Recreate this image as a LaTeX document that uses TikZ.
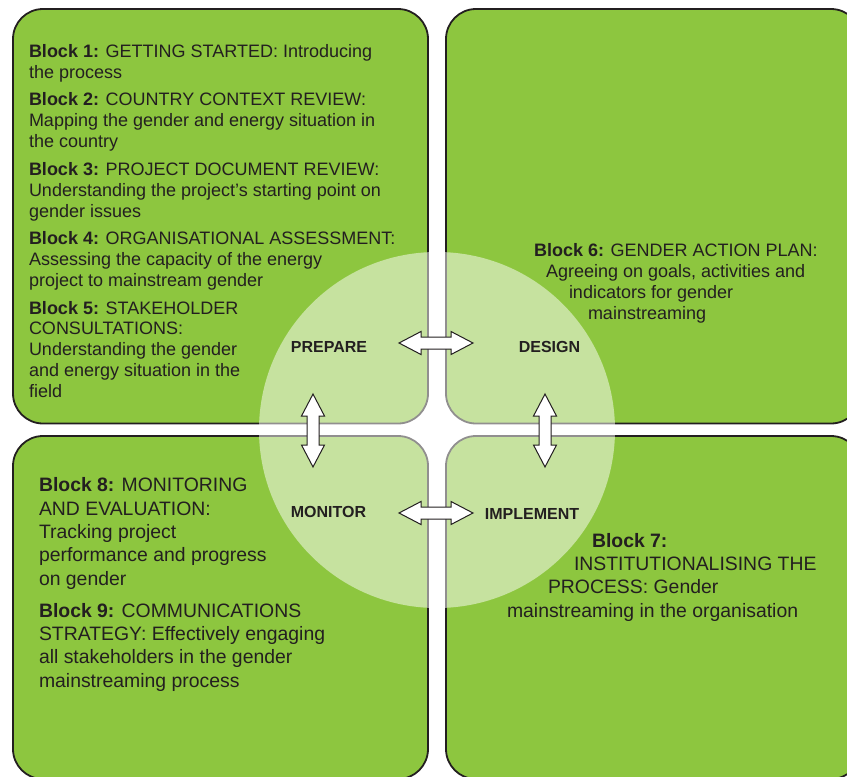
\documentclass[tikz,border=0pt]{standalone}
\usepackage{fontspec}
\setmainfont{Liberation Sans}
\definecolor{leaf}{HTML}{8DC63F}
\definecolor{ink}{HTML}{231F20}
\begin{document}
\begin{tikzpicture}[x=1pt,y=-1pt,
  every node/.style={inner sep=0pt, outer sep=0pt, text=ink},
  quad/.style={fill=leaf, draw=ink, line width=1.8pt, rounded corners=30pt},
  % multi-line text nodes are placed by the baseline of their last line
  body/.style={font=\fontsize{18}{20.7}\selectfont, align=left, anchor=base west},
  bodylarge/.style={font=\fontsize{19.4}{23.3}\selectfont, align=left, anchor=base west},
  phase/.style={font=\fontsize{16}{19}\selectfont\bfseries, anchor=base},
  flowarrow/.style={fill=white, draw=ink, line width=1pt, line join=miter}
]
\useasboundingbox (0,0) rectangle (847,777);
\clip (0,0) rectangle (847,777);

% the four quadrants
\path[quad] (13,9) rectangle (428,423.5);
\path[quad] (446,9) rectangle (861,423.5);
\path[quad] (13,436) rectangle (428,779);
\path[quad] (446,436) rectangle (861,779);

% translucent central disc
\fill[white, opacity=0.5] (437,430) circle (178pt);

% prepare quadrant
\node[body] (b1) at (29,78) {\textbf{Block 1:} GETTING STARTED: Introducing\\the process};
\node[body] (b2) at (29,147) {\textbf{Block 2:} COUNTRY CONTEXT REVIEW:\\Mapping the gender and energy situation in\\the country};
\node[body] (b3) at (29,217) {\textbf{Block 3:} PROJECT DOCUMENT REVIEW:\\Understanding the project’s starting point on\\gender issues};
\node[body] (b4) at (29,286) {\textbf{Block 4:} ORGANISATIONAL ASSESSMENT:\\Assessing the capacity of the energy\\project to mainstream gender};
\node[body] (b5) at (29,397) {\textbf{Block 5:} STAKEHOLDER\\CONSULTATIONS:\\Understanding the gender\\and energy situation in the\\field};

% design quadrant
\node[body] (b6) at (534,319) {\textbf{Block 6:} GENDER ACTION PLAN:\\\hspace*{12pt}Agreeing on goals, activities and\\\hspace*{35pt}indicators for gender\\\hspace*{54pt}mainstreaming};

% implement quadrant
\node[bodylarge] (b7) at (507,617) {\hspace*{85pt}\textbf{Block 7:}\\\hspace*{67pt}INSTITUTIONALISING THE\\\hspace*{41pt}PROCESS: Gender\\mainstreaming in the organisation};

% monitor quadrant
\node[bodylarge] (b8) at (39,585) {\textbf{Block 8:} MONITORING\\AND EVALUATION:\\Tracking project\\performance and progress\\on gender};
\node[bodylarge] (b9) at (39,687) {\textbf{Block 9:} COMMUNICATIONS\\STRATEGY: Effectively engaging\\all stakeholders in the gender\\mainstreaming process};

% phase labels
\node[phase] (prep) at (329,352) {PREPARE};
\node[phase] (design) at (549.5,352) {DESIGN};
\node[phase] (monitor) at (328.5,517) {MONITOR};
\node[phase] (impl) at (532,519) {IMPLEMENT};

% arrow tips between the phases
\coordinate (pd-l) at (399,343);
\coordinate (pd-r) at (473,343);
\coordinate (mi-l) at (399,513);
\coordinate (mi-r) at (473,513);
\coordinate (pm-t) at (313,394);
\coordinate (pm-b) at (313,467);
\coordinate (di-t) at (545,394);
\coordinate (di-b) at (545,467);

% horizontal double arrows
\draw[flowarrow] (pd-l) -- ++(22,-11.5) -- ++(0,5.5) -- ++(30,0) -- ++(0,-5.5) -- (pd-r)
  -- ++(-22,11.5) -- ++(0,-5.5) -- ++(-30,0) -- ++(0,5.5) -- cycle;
\draw[flowarrow] (mi-l) -- ++(22,-11.5) -- ++(0,5.5) -- ++(30,0) -- ++(0,-5.5) -- (mi-r)
  -- ++(-22,11.5) -- ++(0,-5.5) -- ++(-30,0) -- ++(0,5.5) -- cycle;
% vertical double arrows
\draw[flowarrow] (pm-t) -- ++(11.5,22) -- ++(-5.5,0) -- ++(0,29) -- ++(5.5,0) -- (pm-b)
  -- ++(-11.5,-22) -- ++(5.5,0) -- ++(0,-29) -- ++(-5.5,0) -- cycle;
\draw[flowarrow] (di-t) -- ++(11.5,22) -- ++(-5.5,0) -- ++(0,29) -- ++(5.5,0) -- (di-b)
  -- ++(-11.5,-22) -- ++(5.5,0) -- ++(0,-29) -- ++(-5.5,0) -- cycle;
\end{tikzpicture}
\end{document}
